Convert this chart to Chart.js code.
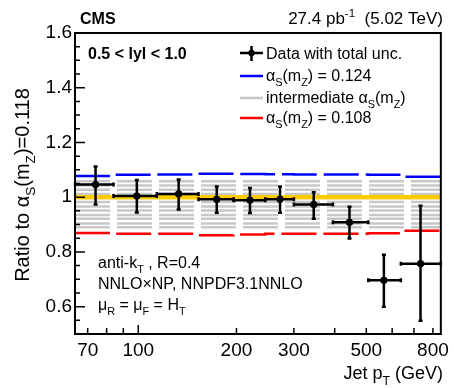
<!DOCTYPE html>
<html>
<head>
<meta charset="utf-8">
<script src="https://cdn.jsdelivr.net/npm/chart.js@4"></script>
<style>
  html, body { margin: 0; padding: 0; background: #fff; }
  #wrap { width: 454px; height: 388px; }
</style>
</head>
<body>
<div id="wrap"><canvas id="ratioChart" width="454" height="388"></canvas></div>
<script>
// jet pT bins (GeV) and measured ratio to alpha_S(mZ)=0.118
const binEdges = [64, 84, 114, 153, 196, 245, 300, 395, 507, 638, 846];
const binCenters = [74, 99, 133, 174, 220, 272, 345, 444, 566, 733];
const dataRatio = [1.046, 1.004, 1.012, 0.992, 0.989, 0.992, 0.973, 0.908, 0.696, 0.757];
const dataHigh = [1.112, 1.063, 1.065, 1.039, 1.034, 1.039, 1.018, 0.965, 0.790, 0.969];
const dataLow = [0.973, 0.944, 0.955, 0.943, 0.942, 0.943, 0.921, 0.849, 0.600, 0.548];

// theory curves, one value per bin
const theoryHigh = [1.077, 1.082, 1.083, 1.086, 1.085, 1.084, 1.083, 1.083, 1.082, 1.075]; // 0.124
const theoryLow = [0.869, 0.866, 0.866, 0.861, 0.864, 0.866, 0.866, 0.866, 0.868, 0.877];  // 0.108
const intermediateLevels = [1.058, 1.043, 1.027, 1.012, 0.982, 0.966, 0.951, 0.935, 0.921, 0.904, 0.890];
const centralLevel = 1.0;

// axis ticks
const xTicks = [70, 80, 90, 100, 200, 300, 400, 500, 600, 700, 800];
const xTickLabels = [70, 100, 200, 300, 500, 800];
const yTickLabels = [0.6, 0.8, 1.0, 1.2, 1.4, 1.6];

const FONT = '"Liberation Sans", Arial, Helvetica, sans-serif';

function stepData(vals) {
    const pts = binEdges.map((e, i) => ({ x: e, y: vals[Math.min(i, vals.length - 1)] }));
    return pts;
}

function flatData(level) {
    return [{ x: binEdges[0], y: level }, { x: binEdges[binEdges.length - 1], y: level }];
}

// draws text made of pieces: [text, 'sub' | 'sup' | '']
function richText(ctx, parts, x, y, size, align, bold) {
    const w = bold ? 'bold ' : '';
    let total = 0;
    parts.forEach(p => {
        const s = p[1] ? size * 0.68 : size;
        ctx.font = w + s + 'px ' + FONT;
        total += ctx.measureText(p[0]).width;
    });
    let cx = align === 'right' ? x - total : (align === 'center' ? x - total / 2 : x);
    ctx.textBaseline = 'alphabetic';
    ctx.textAlign = 'left';
    parts.forEach(p => {
        const s = p[1] ? size * 0.68 : size;
        ctx.font = w + s + 'px ' + FONT;
        let dy = 0;
        if (p[1] === 'sub') dy = size * 0.32;
        if (p[1] === 'sup') dy = -size * 0.42;
        ctx.fillText(p[0], cx, y + dy);
        cx += ctx.measureText(p[0]).width;
    });
}

const errorBars = {
    id: 'errorBars',
    beforeDatasetDraw(chart, args) {
        if (args.index !== 0) return;
        const { ctx, scales: { x, y } } = chart;
        ctx.save();
        ctx.strokeStyle = '#000';
        ctx.lineWidth = 2.5;
        const top = chart.chartArea.top, bot = chart.chartArea.bottom;
        binCenters.forEach((c, i) => {
            const px = x.getPixelForValue(c);
            const py = y.getPixelForValue(dataRatio[i]);
            const x0 = x.getPixelForValue(binEdges[i]);
            const x1 = x.getPixelForValue(binEdges[i + 1]);
            const yh = Math.max(top, y.getPixelForValue(dataHigh[i]));
            const yl = Math.min(bot, y.getPixelForValue(dataLow[i]));
            ctx.beginPath();
            ctx.moveTo(x0, py); ctx.lineTo(x1, py);
            ctx.moveTo(px, yh); ctx.lineTo(px, yl);
            // small end caps
            ctx.moveTo(x0, py - 2); ctx.lineTo(x0, py + 2);
            ctx.moveTo(x1, py - 2); ctx.lineTo(x1, py + 2);
            ctx.moveTo(px - 2, yh); ctx.lineTo(px + 2, yh);
            ctx.moveTo(px - 2, yl); ctx.lineTo(px + 2, yl);
            ctx.stroke();
        });
        ctx.restore();
    }
};

const frameAndText = {
    id: 'frameAndText',
    afterDraw(chart) {
        const { ctx, chartArea: a, scales: { x, y } } = chart;
        ctx.save();
        // inward ticks
        ctx.strokeStyle = '#000';
        ctx.lineWidth = 1.5;
        ctx.beginPath();
        xTicks.forEach(v => {
            const px = x.getPixelForValue(v);
            const len = v === 100 ? 9 : 6;
            ctx.moveTo(px, a.bottom); ctx.lineTo(px, a.bottom - len);
        });
        for (let k = 0; k <= 22; k++) {
            const v = 0.5 + k * 0.05;
            const py = y.getPixelForValue(v);
            const major = yTickLabels.some(t => Math.abs(t - v) < 1e-6);
            ctx.moveTo(a.left, py); ctx.lineTo(a.left + (major ? 10 : 5), py);
        }
        ctx.stroke();
        // frame
        ctx.lineWidth = 2;
        ctx.strokeRect(a.left, a.top, a.right - a.left, a.bottom - a.top);

        ctx.fillStyle = '#000';
        // header
        richText(ctx, [['CMS', '']], 80, 24, 16, 'left', true);
        richText(ctx, [['27.4 pb', ''], ['-1', 'sup'], ['  (5.02 TeV)', '']], 443, 24, 17, 'right');
        // rapidity bin
        richText(ctx, [['0.5 < lyl < 1.0', '']], 88, 59, 16, 'left', true);

        // legend
        const lx0 = 240, lx1 = 263, tx = 266;
        ctx.lineWidth = 2.5;
        ctx.strokeStyle = '#000';
        ctx.beginPath();
        ctx.moveTo(lx0, 53); ctx.lineTo(lx1, 53);
        ctx.moveTo(251.5, 46); ctx.lineTo(251.5, 61);
        ctx.stroke();
        ctx.beginPath(); ctx.arc(251.5, 53, 3.2, 0, Math.PI * 2); ctx.fill();
        richText(ctx, [['Data with total unc.', '']], tx, 59, 16, 'left');

        [[76, '#0000ff'], [98, '#c8c8c8'], [118, '#ff0000']].forEach(r => {
            ctx.strokeStyle = r[1];
            ctx.beginPath(); ctx.moveTo(lx0, r[0]); ctx.lineTo(lx1, r[0]); ctx.stroke();
        });
        richText(ctx, [['\u03b1', ''], ['S', 'sub'], ['(m', ''], ['Z', 'sub'], [') = 0.124', '']], tx, 81, 16, 'left');
        richText(ctx, [['intermediate \u03b1', ''], ['S', 'sub'], ['(m', ''], ['Z', 'sub'], [')', '']], tx, 103, 16, 'left');
        richText(ctx, [['\u03b1', ''], ['S', 'sub'], ['(m', ''], ['Z', 'sub'], [') = 0.108', '']], tx, 123, 16, 'left');

        // jet info
        richText(ctx, [['anti-k', ''], ['T', 'sub'], [' , R=0.4', '']], 98, 268, 16, 'left');
        richText(ctx, [['NNLO\u00d7NP, NNPDF3.1NNLO', '']], 98, 289, 16, 'left');
        richText(ctx, [['\u03bc', ''], ['R', 'sub'], [' = \u03bc', ''], ['F', 'sub'], [' = H', ''], ['T', 'sub']], 98, 310, 16, 'left');

        // axis titles
        richText(ctx, [['Jet p', ''], ['T', 'sub'], [' (GeV)', '']], 443, 379, 18, 'right');
        ctx.save();
        ctx.translate(29, 185);
        ctx.rotate(-Math.PI / 2);
        richText(ctx, [['Ratio to \u03b1', ''], ['S', 'sub'], ['(m', ''], ['Z', 'sub'], [')=0.118', '']], 0, 0, 20, 'center');
        ctx.restore();
        ctx.restore();
    }
};

const datasets = [];
datasets.push({
    type: 'scatter',
    label: 'Data with total unc.',
    data: binCenters.map((c, i) => ({ x: c, y: dataRatio[i] })),
    backgroundColor: '#000',
    borderColor: '#000',
    pointRadius: 3.3,
    order: 0
});
datasets.push({
    type: 'line', label: 'central', data: flatData(centralLevel),
    borderColor: '#ffcc00', borderWidth: 4.5, pointRadius: 0, order: 1
});
datasets.push({
    type: 'line', label: 'alphaS 0.124', data: stepData(theoryHigh), stepped: true,
    borderColor: '#0000ff', borderWidth: 2.5, borderDash: [35, 7], pointRadius: 0, order: 2
});
datasets.push({
    type: 'line', label: 'alphaS 0.108', data: stepData(theoryLow), stepped: true,
    borderColor: '#ff0000', borderWidth: 2.5, borderDash: [35, 7], pointRadius: 0, order: 2
});
intermediateLevels.forEach(l => {
    datasets.push({
        type: 'line', label: 'intermediate', data: flatData(l),
        borderColor: '#c8c8c8', borderWidth: 2.5, borderDash: [35, 7], pointRadius: 0, order: 3
    });
});

new Chart(document.getElementById('ratioChart'), {
    data: { datasets },
    options: {
        responsive: false,
        animation: false,
        devicePixelRatio: 1,
        layout: { padding: { top: 33, right: 11, left: 0, bottom: 0 } },
        plugins: { legend: { display: false }, tooltip: { enabled: false } },
        scales: {
            x: {
                type: 'logarithmic', min: binEdges[0], max: binEdges[binEdges.length - 1],
                afterBuildTicks: s => { s.ticks = xTicks.map(v => ({ value: v })); },
                afterFit: s => { s.height = 54; },
                grid: { display: false, drawTicks: false },
                border: { display: false },
                ticks: {
                    autoSkip: false, maxRotation: 0, padding: 5, color: '#000',
                    font: { size: 19, family: FONT },
                    callback: v => xTickLabels.includes(v) ? String(v) : ''
                }
            },
            y: {
                type: 'linear', min: 0.5, max: 1.6,
                afterBuildTicks: s => {
                    s.ticks = yTickLabels.map(v => ({ value: v }));
                },
                afterFit: s => { s.width = 75; },
                grid: { display: false, drawTicks: false },
                border: { display: false },
                ticks: {
                    padding: 3, color: '#000',
                    font: { size: 19, family: FONT },
                    callback: v => String(Math.round(v * 10) / 10)
                }
            }
        }
    },
    plugins: [errorBars, frameAndText]
});
</script>
</body>
</html>
